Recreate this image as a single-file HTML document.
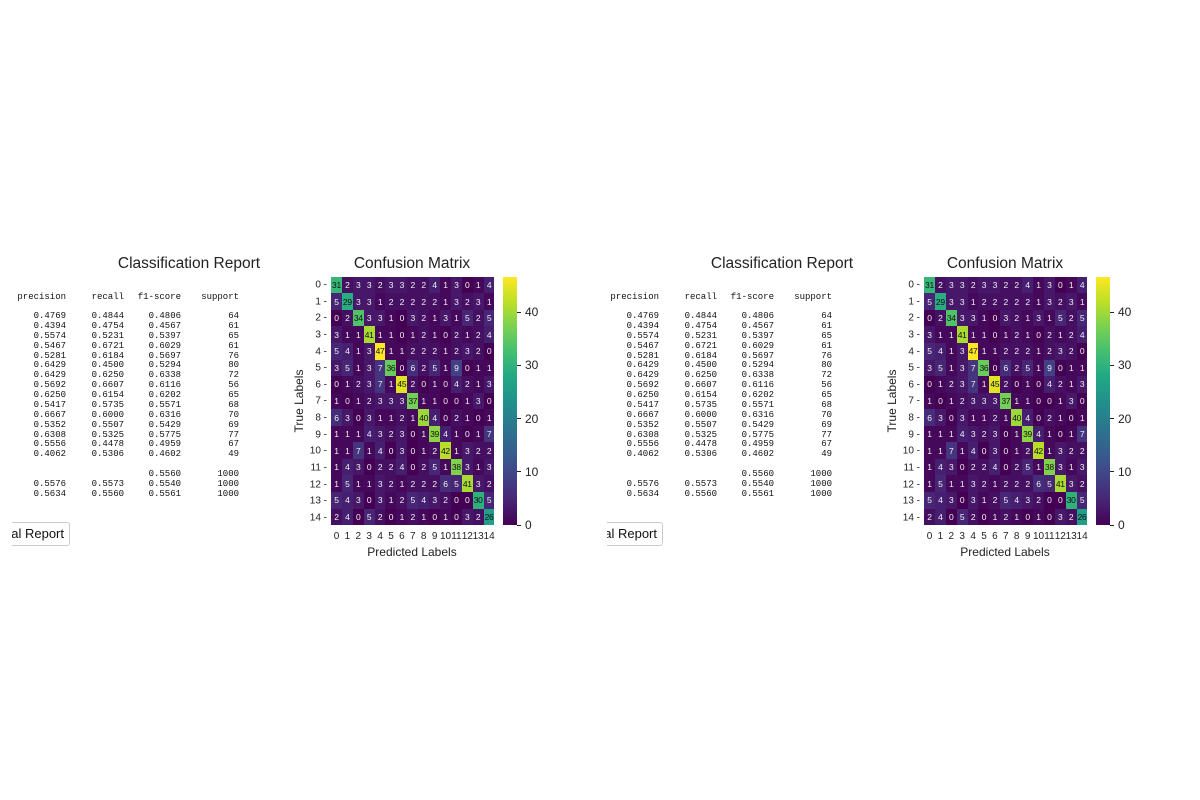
<!DOCTYPE html>
<html><head><meta charset="utf-8">
<style>
*{margin:0;padding:0;box-sizing:border-box}
body{width:1200px;height:800px;background:#fff;position:relative;overflow:hidden;font-family:"Liberation Sans",sans-serif;color:#222}
.panel{position:absolute;top:0;width:593px;height:800px}
.title{position:absolute;font-size:15.5px;white-space:nowrap;transform:translateX(-50%);top:255px}
.col{position:absolute;font-family:"Liberation Mono",monospace;font-size:9px;line-height:9.88px;white-space:pre;text-align:right;color:#111}
.hdr{position:absolute;font-family:"Liberation Mono",monospace;font-size:9px;white-space:pre;text-align:right;top:292px;color:#111}
.btnclip{position:absolute;left:10px;top:520px;width:80px;height:30px;overflow:hidden}
.btn{position:absolute;right:20px;top:2px;height:24px;border:1px solid #ccc;border-radius:3px;background:#fff;font-size:13px;padding:3px 5px;white-space:nowrap;color:#111}
.grid{position:absolute;left:331px;top:276.7px;width:163.5px;height:248.5px;display:grid;grid-template-columns:repeat(15,1fr);grid-template-rows:repeat(15,1fr)}
.grid i{font-style:normal;font-size:8.5px;color:#f0f0f0;display:flex;align-items:center;justify-content:center;letter-spacing:-0.3px}
.c0{background:#440154}.c1{background:#45085b}.c2{background:#461062}.c3{background:#471769}.c4{background:#471f70}
.c5{background:#482676}.c6{background:#462d7a}.c7{background:#45347e}.c8{background:#433a82}.c9{background:#424185}
.grid i.d{color:#111}
.c26{background:#229d88}.c29{background:#28ac81}.c30{background:#2fb17c}.c31{background:#36b678}.c34{background:#50c369}
.c36{background:#68cb5c}.c37{background:#73cf55}.c38{background:#80d24d}.c39{background:#8ed544}.c40{background:#9cd83b}
.c41{background:#aadb32}.c42{background:#b9de29}.c45{background:#e1e425}.c47{background:#fde725}
.yl{position:absolute;right:266px;font-size:10px;transform:translateY(-50%)}
.xl{position:absolute;top:531px;font-size:10px;transform:translateX(-50%)}
.cbar{position:absolute;left:503.3px;top:276.7px;width:13.4px;height:248.3px;background:linear-gradient(to top,#440154 0%,#482475 10%,#414487 20%,#355f8d 30%,#2a788e 40%,#21918c 50%,#22a884 60%,#44bf70 70%,#7ad151 80%,#bddf26 90%,#fde725 100%)}
.ct{position:absolute;left:516.7px;width:4px;height:1px;background:#222}
.cl{position:absolute;left:525px;font-size:12px;transform:translateY(-50%)}
</style></head><body>

<div class="panel" style="left:0">
<div class="title" style="left:189px">Classification Report</div>
<div class="hdr" style="right:527px">precision</div>
<div class="hdr" style="right:469px">recall</div>
<div class="hdr" style="right:412px">f1-score</div>
<div class="hdr" style="right:354px">support</div>
<div class="col" style="right:527px;top:312px">0.4769
0.4394
0.5574
0.5467
0.5281
0.6429
0.6429
0.5692
0.6250
0.5417
0.6667
0.5352
0.6308
0.5556
0.4062


0.5576
0.5634</div>
<div class="col" style="right:469px;top:312px">0.4844
0.4754
0.5231
0.6721
0.6184
0.4500
0.6250
0.6607
0.6154
0.5735
0.6000
0.5507
0.5325
0.4478
0.5306


0.5573
0.5560</div>
<div class="col" style="right:412px;top:312px">0.4806
0.4567
0.5397
0.6029
0.5697
0.5294
0.6338
0.6116
0.6202
0.5571
0.6316
0.5429
0.5775
0.4959
0.4602

0.5560
0.5540
0.5561</div>
<div class="col" style="right:354px;top:312px">64
61
65
61
76
80
72
56
65
68
70
69
77
67
49

1000
1000
1000</div>
<div class="btnclip" style="left:12px;width:78px"><div class="btn">Final Report</div></div>

<div class="title" style="left:412px">Confusion Matrix</div>
<div class="grid">
<i class="c31 d">31</i><i class="c2">2</i><i class="c3">3</i><i class="c3">3</i><i class="c2">2</i><i class="c3">3</i><i class="c3">3</i><i class="c2">2</i><i class="c2">2</i><i class="c4">4</i><i class="c1">1</i><i class="c3">3</i><i class="c0">0</i><i class="c1">1</i><i class="c4">4</i>
<i class="c5">5</i><i class="c29 d">29</i><i class="c3">3</i><i class="c3">3</i><i class="c1">1</i><i class="c2">2</i><i class="c2">2</i><i class="c2">2</i><i class="c2">2</i><i class="c2">2</i><i class="c1">1</i><i class="c3">3</i><i class="c2">2</i><i class="c3">3</i><i class="c1">1</i>
<i class="c0">0</i><i class="c2">2</i><i class="c34 d">34</i><i class="c3">3</i><i class="c3">3</i><i class="c1">1</i><i class="c0">0</i><i class="c3">3</i><i class="c2">2</i><i class="c1">1</i><i class="c3">3</i><i class="c1">1</i><i class="c5">5</i><i class="c2">2</i><i class="c5">5</i>
<i class="c3">3</i><i class="c1">1</i><i class="c1">1</i><i class="c41 d">41</i><i class="c1">1</i><i class="c1">1</i><i class="c0">0</i><i class="c1">1</i><i class="c2">2</i><i class="c1">1</i><i class="c0">0</i><i class="c2">2</i><i class="c1">1</i><i class="c2">2</i><i class="c4">4</i>
<i class="c5">5</i><i class="c4">4</i><i class="c1">1</i><i class="c3">3</i><i class="c47 d">47</i><i class="c1">1</i><i class="c1">1</i><i class="c2">2</i><i class="c2">2</i><i class="c2">2</i><i class="c1">1</i><i class="c2">2</i><i class="c3">3</i><i class="c2">2</i><i class="c0">0</i>
<i class="c3">3</i><i class="c5">5</i><i class="c1">1</i><i class="c3">3</i><i class="c7">7</i><i class="c36 d">36</i><i class="c0">0</i><i class="c6">6</i><i class="c2">2</i><i class="c5">5</i><i class="c1">1</i><i class="c9">9</i><i class="c0">0</i><i class="c1">1</i><i class="c1">1</i>
<i class="c0">0</i><i class="c1">1</i><i class="c2">2</i><i class="c3">3</i><i class="c7">7</i><i class="c1">1</i><i class="c45 d">45</i><i class="c2">2</i><i class="c0">0</i><i class="c1">1</i><i class="c0">0</i><i class="c4">4</i><i class="c2">2</i><i class="c1">1</i><i class="c3">3</i>
<i class="c1">1</i><i class="c0">0</i><i class="c1">1</i><i class="c2">2</i><i class="c3">3</i><i class="c3">3</i><i class="c3">3</i><i class="c37 d">37</i><i class="c1">1</i><i class="c1">1</i><i class="c0">0</i><i class="c0">0</i><i class="c1">1</i><i class="c3">3</i><i class="c0">0</i>
<i class="c6">6</i><i class="c3">3</i><i class="c0">0</i><i class="c3">3</i><i class="c1">1</i><i class="c1">1</i><i class="c2">2</i><i class="c1">1</i><i class="c40 d">40</i><i class="c4">4</i><i class="c0">0</i><i class="c2">2</i><i class="c1">1</i><i class="c0">0</i><i class="c1">1</i>
<i class="c1">1</i><i class="c1">1</i><i class="c1">1</i><i class="c4">4</i><i class="c3">3</i><i class="c2">2</i><i class="c3">3</i><i class="c0">0</i><i class="c1">1</i><i class="c39 d">39</i><i class="c4">4</i><i class="c1">1</i><i class="c0">0</i><i class="c1">1</i><i class="c7">7</i>
<i class="c1">1</i><i class="c1">1</i><i class="c7">7</i><i class="c1">1</i><i class="c4">4</i><i class="c0">0</i><i class="c3">3</i><i class="c0">0</i><i class="c1">1</i><i class="c2">2</i><i class="c42 d">42</i><i class="c1">1</i><i class="c3">3</i><i class="c2">2</i><i class="c2">2</i>
<i class="c1">1</i><i class="c4">4</i><i class="c3">3</i><i class="c0">0</i><i class="c2">2</i><i class="c2">2</i><i class="c4">4</i><i class="c0">0</i><i class="c2">2</i><i class="c5">5</i><i class="c1">1</i><i class="c38 d">38</i><i class="c3">3</i><i class="c1">1</i><i class="c3">3</i>
<i class="c1">1</i><i class="c5">5</i><i class="c1">1</i><i class="c1">1</i><i class="c3">3</i><i class="c2">2</i><i class="c1">1</i><i class="c2">2</i><i class="c2">2</i><i class="c2">2</i><i class="c6">6</i><i class="c5">5</i><i class="c41 d">41</i><i class="c3">3</i><i class="c2">2</i>
<i class="c5">5</i><i class="c4">4</i><i class="c3">3</i><i class="c0">0</i><i class="c3">3</i><i class="c1">1</i><i class="c2">2</i><i class="c5">5</i><i class="c4">4</i><i class="c3">3</i><i class="c2">2</i><i class="c0">0</i><i class="c0">0</i><i class="c30 d">30</i><i class="c5">5</i>
<i class="c2">2</i><i class="c4">4</i><i class="c0">0</i><i class="c5">5</i><i class="c2">2</i><i class="c0">0</i><i class="c1">1</i><i class="c2">2</i><i class="c1">1</i><i class="c0">0</i><i class="c1">1</i><i class="c0">0</i><i class="c3">3</i><i class="c2">2</i><i class="c26 d">26</i>
</div>
<div class="yl" style="top:285px">0 -</div><div class="yl" style="top:301.6px">1 -</div><div class="yl" style="top:318.3px">2 -</div><div class="yl" style="top:334.9px">3 -</div><div class="yl" style="top:351.5px">4 -</div><div class="yl" style="top:368.1px">5 -</div><div class="yl" style="top:384.8px">6 -</div><div class="yl" style="top:401.4px">7 -</div><div class="yl" style="top:418px">8 -</div><div class="yl" style="top:434.6px">9 -</div><div class="yl" style="top:451.3px">10 -</div><div class="yl" style="top:467.9px">11 -</div><div class="yl" style="top:484.5px">12 -</div><div class="yl" style="top:501.1px">13 -</div><div class="yl" style="top:517.8px">14 -</div>
<div class="xl" style="left:336.5px">0</div><div class="xl" style="left:347.4px">1</div><div class="xl" style="left:358.3px">2</div><div class="xl" style="left:369.2px">3</div><div class="xl" style="left:380.1px">4</div><div class="xl" style="left:391px">5</div><div class="xl" style="left:401.9px">6</div><div class="xl" style="left:412.8px">7</div><div class="xl" style="left:423.7px">8</div><div class="xl" style="left:434.6px">9</div><div class="xl" style="left:445.5px">10</div><div class="xl" style="left:456.4px">11</div><div class="xl" style="left:467.3px">12</div><div class="xl" style="left:478.2px">13</div><div class="xl" style="left:489.1px">14</div>
<div style="position:absolute;left:412px;top:545px;font-size:12px;transform:translateX(-50%);white-space:nowrap">Predicted Labels</div>
<div style="position:absolute;left:299px;top:401px;font-size:12px;transform:translate(-50%,-50%) rotate(-90deg);white-space:nowrap">True Labels</div>
<div class="cbar"></div>
<div class="ct" style="top:524.5px"></div><div class="ct" style="top:471.4px"></div><div class="ct" style="top:418.2px"></div><div class="ct" style="top:365px"></div><div class="ct" style="top:311.8px"></div>
<div class="cl" style="top:525px">0</div><div class="cl" style="top:471.8px">10</div><div class="cl" style="top:418.6px">20</div><div class="cl" style="top:365.4px">30</div><div class="cl" style="top:312.3px">40</div>
</div>

<div class="panel" style="left:593px">
<div class="title" style="left:189px">Classification Report</div>
<div class="hdr" style="right:527px">precision</div>
<div class="hdr" style="right:469px">recall</div>
<div class="hdr" style="right:412px">f1-score</div>
<div class="hdr" style="right:354px">support</div>
<div class="col" style="right:527px;top:312px">0.4769
0.4394
0.5574
0.5467
0.5281
0.6429
0.6429
0.5692
0.6250
0.5417
0.6667
0.5352
0.6308
0.5556
0.4062


0.5576
0.5634</div>
<div class="col" style="right:469px;top:312px">0.4844
0.4754
0.5231
0.6721
0.6184
0.4500
0.6250
0.6607
0.6154
0.5735
0.6000
0.5507
0.5325
0.4478
0.5306


0.5573
0.5560</div>
<div class="col" style="right:412px;top:312px">0.4806
0.4567
0.5397
0.6029
0.5697
0.5294
0.6338
0.6116
0.6202
0.5571
0.6316
0.5429
0.5775
0.4959
0.4602

0.5560
0.5540
0.5561</div>
<div class="col" style="right:354px;top:312px">64
61
65
61
76
80
72
56
65
68
70
69
77
67
49

1000
1000
1000</div>
<div class="btnclip" style="left:14px;width:76px"><div class="btn">Final Report</div></div>

<div class="title" style="left:412px">Confusion Matrix</div>
<div class="grid">
<i class="c31 d">31</i><i class="c2">2</i><i class="c3">3</i><i class="c3">3</i><i class="c2">2</i><i class="c3">3</i><i class="c3">3</i><i class="c2">2</i><i class="c2">2</i><i class="c4">4</i><i class="c1">1</i><i class="c3">3</i><i class="c0">0</i><i class="c1">1</i><i class="c4">4</i>
<i class="c5">5</i><i class="c29 d">29</i><i class="c3">3</i><i class="c3">3</i><i class="c1">1</i><i class="c2">2</i><i class="c2">2</i><i class="c2">2</i><i class="c2">2</i><i class="c2">2</i><i class="c1">1</i><i class="c3">3</i><i class="c2">2</i><i class="c3">3</i><i class="c1">1</i>
<i class="c0">0</i><i class="c2">2</i><i class="c34 d">34</i><i class="c3">3</i><i class="c3">3</i><i class="c1">1</i><i class="c0">0</i><i class="c3">3</i><i class="c2">2</i><i class="c1">1</i><i class="c3">3</i><i class="c1">1</i><i class="c5">5</i><i class="c2">2</i><i class="c5">5</i>
<i class="c3">3</i><i class="c1">1</i><i class="c1">1</i><i class="c41 d">41</i><i class="c1">1</i><i class="c1">1</i><i class="c0">0</i><i class="c1">1</i><i class="c2">2</i><i class="c1">1</i><i class="c0">0</i><i class="c2">2</i><i class="c1">1</i><i class="c2">2</i><i class="c4">4</i>
<i class="c5">5</i><i class="c4">4</i><i class="c1">1</i><i class="c3">3</i><i class="c47 d">47</i><i class="c1">1</i><i class="c1">1</i><i class="c2">2</i><i class="c2">2</i><i class="c2">2</i><i class="c1">1</i><i class="c2">2</i><i class="c3">3</i><i class="c2">2</i><i class="c0">0</i>
<i class="c3">3</i><i class="c5">5</i><i class="c1">1</i><i class="c3">3</i><i class="c7">7</i><i class="c36 d">36</i><i class="c0">0</i><i class="c6">6</i><i class="c2">2</i><i class="c5">5</i><i class="c1">1</i><i class="c9">9</i><i class="c0">0</i><i class="c1">1</i><i class="c1">1</i>
<i class="c0">0</i><i class="c1">1</i><i class="c2">2</i><i class="c3">3</i><i class="c7">7</i><i class="c1">1</i><i class="c45 d">45</i><i class="c2">2</i><i class="c0">0</i><i class="c1">1</i><i class="c0">0</i><i class="c4">4</i><i class="c2">2</i><i class="c1">1</i><i class="c3">3</i>
<i class="c1">1</i><i class="c0">0</i><i class="c1">1</i><i class="c2">2</i><i class="c3">3</i><i class="c3">3</i><i class="c3">3</i><i class="c37 d">37</i><i class="c1">1</i><i class="c1">1</i><i class="c0">0</i><i class="c0">0</i><i class="c1">1</i><i class="c3">3</i><i class="c0">0</i>
<i class="c6">6</i><i class="c3">3</i><i class="c0">0</i><i class="c3">3</i><i class="c1">1</i><i class="c1">1</i><i class="c2">2</i><i class="c1">1</i><i class="c40 d">40</i><i class="c4">4</i><i class="c0">0</i><i class="c2">2</i><i class="c1">1</i><i class="c0">0</i><i class="c1">1</i>
<i class="c1">1</i><i class="c1">1</i><i class="c1">1</i><i class="c4">4</i><i class="c3">3</i><i class="c2">2</i><i class="c3">3</i><i class="c0">0</i><i class="c1">1</i><i class="c39 d">39</i><i class="c4">4</i><i class="c1">1</i><i class="c0">0</i><i class="c1">1</i><i class="c7">7</i>
<i class="c1">1</i><i class="c1">1</i><i class="c7">7</i><i class="c1">1</i><i class="c4">4</i><i class="c0">0</i><i class="c3">3</i><i class="c0">0</i><i class="c1">1</i><i class="c2">2</i><i class="c42 d">42</i><i class="c1">1</i><i class="c3">3</i><i class="c2">2</i><i class="c2">2</i>
<i class="c1">1</i><i class="c4">4</i><i class="c3">3</i><i class="c0">0</i><i class="c2">2</i><i class="c2">2</i><i class="c4">4</i><i class="c0">0</i><i class="c2">2</i><i class="c5">5</i><i class="c1">1</i><i class="c38 d">38</i><i class="c3">3</i><i class="c1">1</i><i class="c3">3</i>
<i class="c1">1</i><i class="c5">5</i><i class="c1">1</i><i class="c1">1</i><i class="c3">3</i><i class="c2">2</i><i class="c1">1</i><i class="c2">2</i><i class="c2">2</i><i class="c2">2</i><i class="c6">6</i><i class="c5">5</i><i class="c41 d">41</i><i class="c3">3</i><i class="c2">2</i>
<i class="c5">5</i><i class="c4">4</i><i class="c3">3</i><i class="c0">0</i><i class="c3">3</i><i class="c1">1</i><i class="c2">2</i><i class="c5">5</i><i class="c4">4</i><i class="c3">3</i><i class="c2">2</i><i class="c0">0</i><i class="c0">0</i><i class="c30 d">30</i><i class="c5">5</i>
<i class="c2">2</i><i class="c4">4</i><i class="c0">0</i><i class="c5">5</i><i class="c2">2</i><i class="c0">0</i><i class="c1">1</i><i class="c2">2</i><i class="c1">1</i><i class="c0">0</i><i class="c1">1</i><i class="c0">0</i><i class="c3">3</i><i class="c2">2</i><i class="c26 d">26</i>
</div>
<div class="yl" style="top:285px">0 -</div><div class="yl" style="top:301.6px">1 -</div><div class="yl" style="top:318.3px">2 -</div><div class="yl" style="top:334.9px">3 -</div><div class="yl" style="top:351.5px">4 -</div><div class="yl" style="top:368.1px">5 -</div><div class="yl" style="top:384.8px">6 -</div><div class="yl" style="top:401.4px">7 -</div><div class="yl" style="top:418px">8 -</div><div class="yl" style="top:434.6px">9 -</div><div class="yl" style="top:451.3px">10 -</div><div class="yl" style="top:467.9px">11 -</div><div class="yl" style="top:484.5px">12 -</div><div class="yl" style="top:501.1px">13 -</div><div class="yl" style="top:517.8px">14 -</div>
<div class="xl" style="left:336.5px">0</div><div class="xl" style="left:347.4px">1</div><div class="xl" style="left:358.3px">2</div><div class="xl" style="left:369.2px">3</div><div class="xl" style="left:380.1px">4</div><div class="xl" style="left:391px">5</div><div class="xl" style="left:401.9px">6</div><div class="xl" style="left:412.8px">7</div><div class="xl" style="left:423.7px">8</div><div class="xl" style="left:434.6px">9</div><div class="xl" style="left:445.5px">10</div><div class="xl" style="left:456.4px">11</div><div class="xl" style="left:467.3px">12</div><div class="xl" style="left:478.2px">13</div><div class="xl" style="left:489.1px">14</div>
<div style="position:absolute;left:412px;top:545px;font-size:12px;transform:translateX(-50%);white-space:nowrap">Predicted Labels</div>
<div style="position:absolute;left:299px;top:401px;font-size:12px;transform:translate(-50%,-50%) rotate(-90deg);white-space:nowrap">True Labels</div>
<div class="cbar"></div>
<div class="ct" style="top:524.5px"></div><div class="ct" style="top:471.4px"></div><div class="ct" style="top:418.2px"></div><div class="ct" style="top:365px"></div><div class="ct" style="top:311.8px"></div>
<div class="cl" style="top:525px">0</div><div class="cl" style="top:471.8px">10</div><div class="cl" style="top:418.6px">20</div><div class="cl" style="top:365.4px">30</div><div class="cl" style="top:312.3px">40</div>
</div>

</body></html>
